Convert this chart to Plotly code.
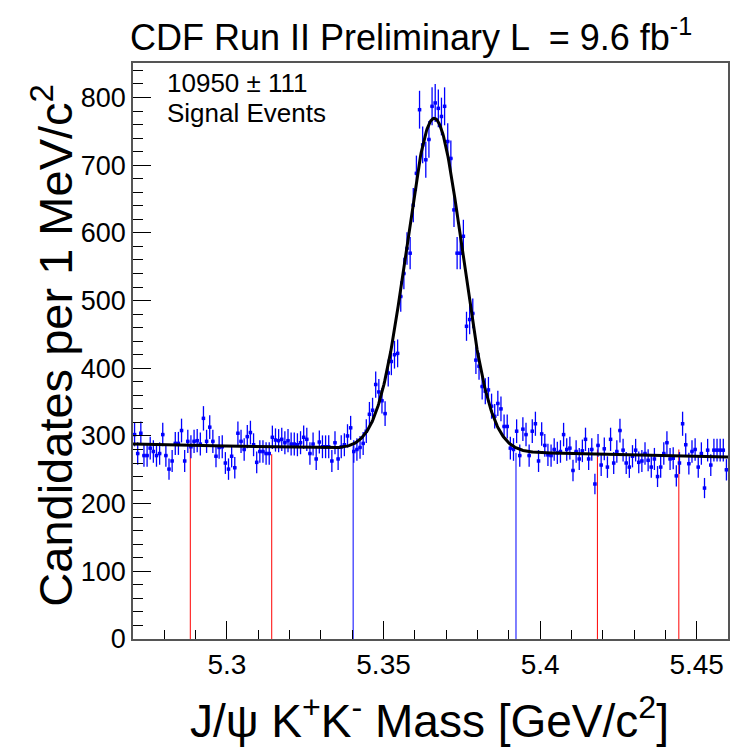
import numpy as np
import plotly.graph_objects as go

# Histogram: J/psi K+K- invariant mass, 1 MeV bins from 5.270 to 5.460 GeV/c^2
mass_lo = 5.270
bin_width = 0.001
counts = [
    302, 274, 304, 271, 271, 282, 277, 271, 274, 302,
    271, 251, 263, 289, 289, 308, 263, 292, 284, 292,
    293, 288, 326, 292, 313, 292, 270, 283, 284, 260,
    251, 270, 253, 304, 292, 280, 299, 305, 287, 261,
    277, 277, 274, 274, 298, 294, 293, 295, 290, 293,
    288, 288, 287, 290, 298, 295, 274, 288, 266, 291,
    284, 284, 284, 263, 290, 266, 284, 287, 300, 312,
    277, 280, 283, 289, 307, 332, 338, 376, 365, 352,
    333, 393, 410, 420, 422, 506, 540, 577, 570, 641,
    688, 782, 730, 708, 738, 787, 792, 784, 772, 787,
    735, 710, 634, 570, 570, 595, 462, 472, 481, 412,
    403, 373, 366, 368, 344, 329, 348, 340, 314, 314,
    282, 280, 307, 271, 310, 302, 271, 307, 318, 263,
    303, 286, 272, 271, 280, 275, 277, 302, 280, 282,
    249, 277, 266, 278, 295, 266, 280, 229, 286, 257,
    281, 254, 295, 260, 277, 308, 279, 260, 254, 270,
    279, 261, 263, 274, 264, 254, 266, 240, 254, 274,
    290, 266, 267, 241, 260, 318, 287, 259, 277, 280,
    254, 274, 223, 279, 257, 279, 279, 279, 279, 250,
]

# Fit result: Gaussian signal on a linear background
n_signal = 10950
n_signal_err = 111
b_mean = 5.3662
b_sigma = 0.0089
bkg_at_lo = 288.0
bkg_slope = -100.0  # candidates per MeV per GeV/c^2

# Signal-window and sideband boundaries, with the height each line is drawn to
edge_positions = [5.2883, 5.3143, 5.3403, 5.3923, 5.4183, 5.4443]
edge_colors = ["#ff0000", "#ff0000", "#0000ff", "#0000ff", "#ff0000", "#ff0000"]
edge_tops = [288, 273, 285, 275, 280, 280]

x_ticks = [5.30, 5.35, 5.40, 5.45]
x_tick_text = ["5.3", "5.35", "5.4", "5.45"]
y_ticks = [0, 100, 200, 300, 400, 500, 600, 700, 800]

counts = np.array(counts, dtype=float)
centers = mass_lo + (np.arange(len(counts)) + 0.5) * bin_width
mass_hi = mass_lo + len(counts) * bin_width


def fit_model(m):
    bkg = bkg_at_lo + bkg_slope * (m - mass_lo)
    amp = n_signal * bin_width / (b_sigma * np.sqrt(2 * np.pi))
    return bkg + amp * np.exp(-0.5 * ((m - b_mean) / b_sigma) ** 2)


FONT = "Liberation Sans, Arial, Helvetica, sans-serif"

fig = go.Figure()

for xp, col, top in zip(edge_positions, edge_colors, edge_tops):
    fig.add_trace(go.Scatter(
        x=[xp, xp], y=[0, top], mode="lines",
        line=dict(color=col, width=1), hoverinfo="skip", showlegend=False,
    ))

fig.add_trace(go.Scatter(
    x=centers, y=counts, mode="markers",
    marker=dict(symbol="square", size=3.5, color="#0000ff", line=dict(width=0)),
    error_y=dict(type="data", array=np.sqrt(counts), color="#0000ff",
                 thickness=1.3, width=0),
    error_x=dict(type="constant", value=bin_width / 2, color="#0000ff",
                 thickness=1, width=0),
    showlegend=False,
))

m_fine = np.linspace(mass_lo, mass_hi, 800)
fig.add_trace(go.Scatter(
    x=m_fine, y=fit_model(m_fine), mode="lines",
    line=dict(color="black", width=3), showlegend=False,
))

axis_common = dict(
    showgrid=False, zeroline=False, ticks="inside", tickcolor="black",
    showline=True, linecolor="#555555", linewidth=1.5, mirror=True,
)

fig.update_xaxes(
    range=[mass_lo, mass_hi], tickvals=x_ticks, ticktext=x_tick_text,
    ticklen=18, tickwidth=1, tickfont=dict(family=FONT, size=28, color="black"),
    minor=dict(dtick=0.01, tick0=5.30, ticklen=9, ticks="inside",
               tickcolor="black", tickwidth=1),
    **axis_common,
)
fig.update_yaxes(
    range=[0, 851], tickvals=y_ticks,
    ticklen=18, tickwidth=1, tickfont=dict(family=FONT, size=27, color="black"),
    minor=dict(dtick=20, tick0=0, ticklen=10, ticks="inside",
               tickcolor="black", tickwidth=1),
    **axis_common,
)

annotations = [
    dict(text="CDF Run II Preliminary L  = 9.6 fb<sup>-1</sup>",
         x=0.4667, y=1.049, xanchor="center", yanchor="middle",
         font=dict(family=FONT, size=36, color="black")),
    dict(text=f"{n_signal} \u00b1 {n_signal_err}",
         x=0.0534, y=0.9645, xanchor="left", yanchor="middle",
         font=dict(family=FONT, size=26, color="black")),
    dict(text="Signal Events",
         x=0.0534, y=0.9140, xanchor="left", yanchor="middle",
         font=dict(family=FONT, size=26, color="black")),
    dict(text="Candidates per 1 MeV/c<sup>2</sup>",
         x=-0.135, y=0.5104, xanchor="center", yanchor="middle", textangle=-90,
         font=dict(family=FONT, size=47, color="black")),
    dict(text="J/\u03c8 K<sup>+</sup>K<sup>-</sup> Mass [GeV/c<sup>2</sup>]",
         x=0.4986, y=-0.1366, xanchor="center", yanchor="middle",
         font=dict(family=FONT, size=46, color="black")),
]
for a in annotations:
    a.update(xref="paper", yref="paper", showarrow=False)

fig.update_layout(
    width=741, height=748,
    margin=dict(l=133, r=13, t=63, b=109),
    paper_bgcolor="white", plot_bgcolor="white",
    annotations=annotations,
)

fig.write_html("out.html")
